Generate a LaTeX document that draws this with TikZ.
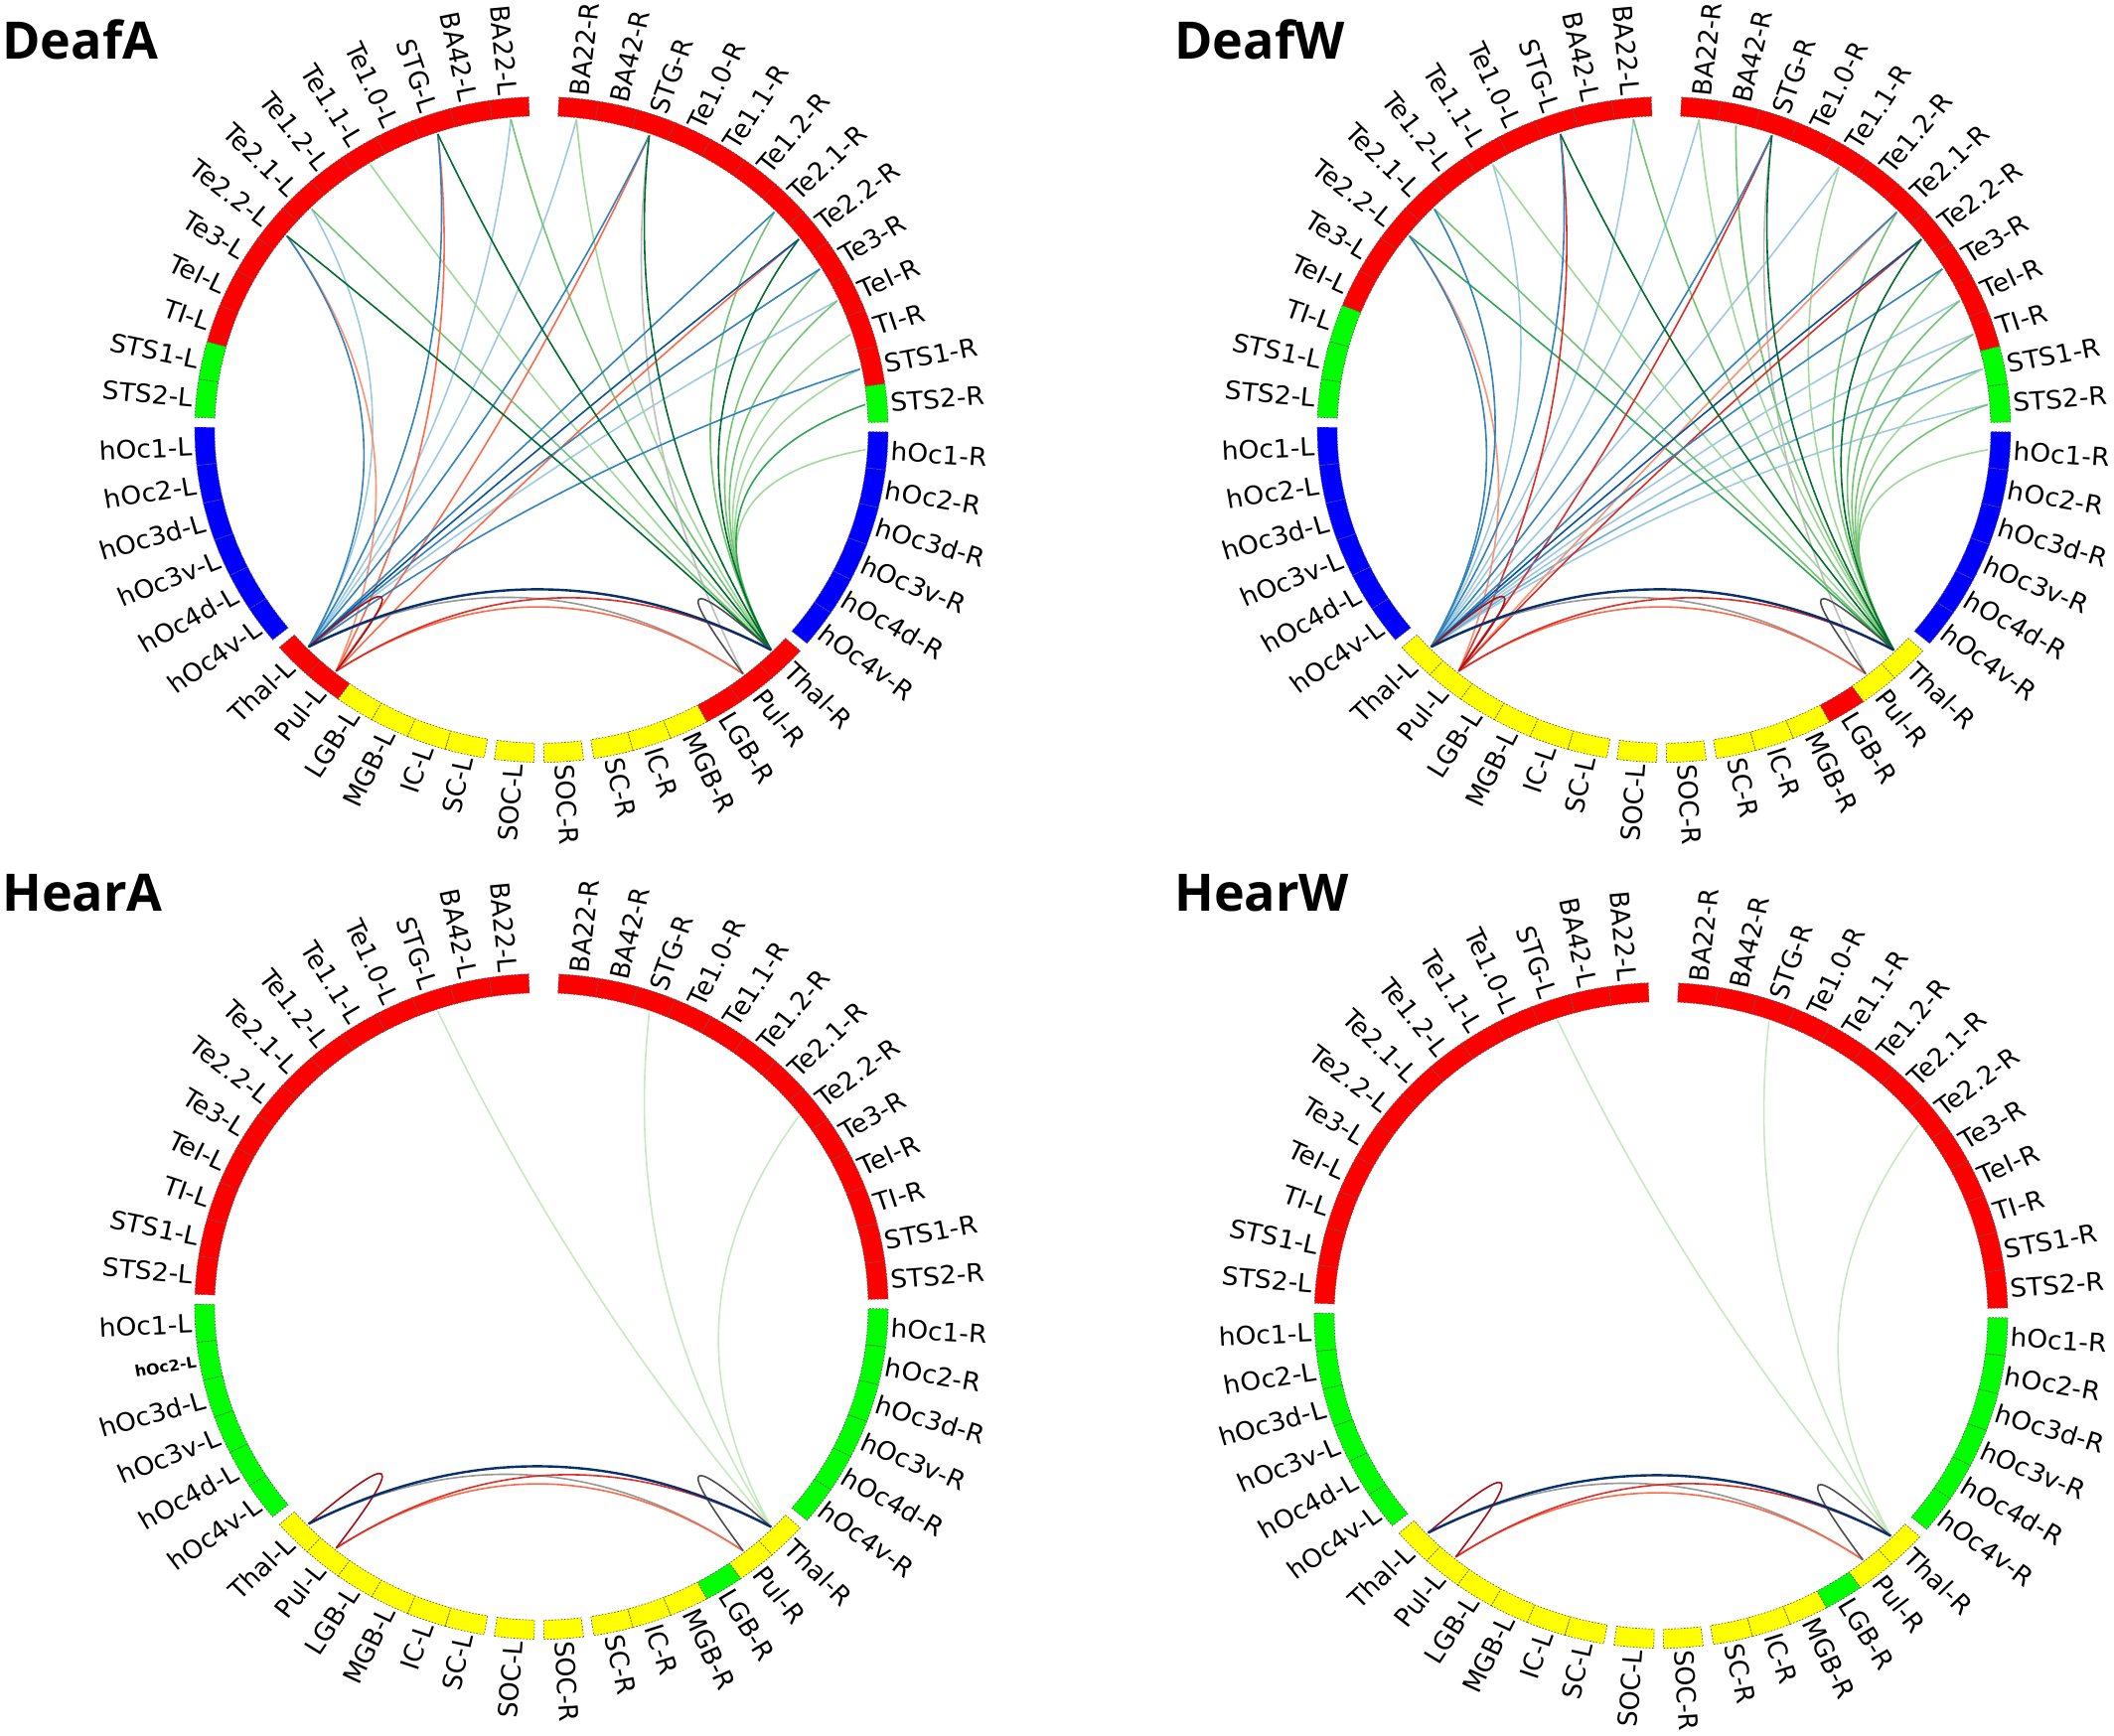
\documentclass[tikz,border=0pt]{standalone}
\usepackage{fontspec}
\setmainfont{DejaVu Sans}
\newfontfamily\titlefont{Open Sans}
\usetikzlibrary{calc}

\definecolor{segR}{RGB}{255,0,0}
\definecolor{segG}{RGB}{0,255,0}
\definecolor{segB}{RGB}{0,0,255}
\definecolor{segY}{RGB}{255,255,0}
\definecolor{cB1}{HTML}{9ECAE1}
\definecolor{cB2}{HTML}{6BAED6}
\definecolor{cB3}{HTML}{3182BD}
\definecolor{cB4}{HTML}{08519C}
\definecolor{cG0}{HTML}{C7E9C0}
\definecolor{cG1}{HTML}{A1D99B}
\definecolor{cG2}{HTML}{74C476}
\definecolor{cG3}{HTML}{31A354}
\definecolor{cG4}{HTML}{006D2C}
\definecolor{cR1}{HTML}{FC9272}
\definecolor{cR2}{HTML}{FB6A4A}
\definecolor{cR3}{HTML}{DE2D26}
\definecolor{cR4}{HTML}{A50F15}
\definecolor{cK1}{HTML}{BDBDBD}
\definecolor{cK2}{HTML}{969696}
\definecolor{cK3}{HTML}{4D4D4D}
\definecolor{cNv}{HTML}{08306B}

\tikzset{
  lbl/.style={inner sep=0pt, transform shape, font=\fontsize{13.25}{15}\selectfont},
  ttl/.style={inner sep=0pt, anchor=base west, font=\titlefont\bfseries\fontsize{26}{30}\selectfont},
  segline/.style={draw=black!65, line width=0.35pt, dash pattern=on 0.8pt off 0.8pt},
  chordbase/.style={line width=0.8pt},
  b1/.style={chordbase, draw=cB1}, b2/.style={chordbase, draw=cB2},
  b3/.style={chordbase, draw=cB3}, b4/.style={chordbase, draw=cB4},
  g0/.style={chordbase, draw=cG0}, g1/.style={chordbase, draw=cG1},
  g2/.style={chordbase, draw=cG2}, g3/.style={chordbase, draw=cG3},
  g4/.style={chordbase, draw=cG4},
  r1/.style={chordbase, draw=cR1}, r2/.style={chordbase, draw=cR2},
  r3/.style={chordbase, draw=cR3}, r4/.style={chordbase, draw=cR4},
  k1/.style={chordbase, draw=cK1}, k2/.style={chordbase, draw=cK2},
  k3/.style={chordbase, draw=cK3},
  nv/.style={line width=1.2pt, draw=cNv}
}

\newcommand\setsegcol[3]{%
  \def\cc{segY}%
  \ifnum#3<13\relax\def\cc{segR}\fi
  \ifnum#3>12\relax\ifnum#3<19\relax\def\cc{segB}\fi\fi
  \ifcase#1\relax
    \ifnum#2=0\relax
      \ifnum#3>10\relax\ifnum#3<13\relax\def\cc{segG}\fi\fi
      \ifnum#3>18\relax\ifnum#3<21\relax\def\cc{segR}\fi\fi
    \else
      \ifnum#3=12\relax\def\cc{segG}\fi
      \ifnum#3>18\relax\ifnum#3<22\relax\def\cc{segR}\fi\fi
    \fi
  \or
    \ifnum#2=0\relax
      \ifnum#3>9\relax\ifnum#3<13\relax\def\cc{segG}\fi\fi
    \else
      \ifnum#3>10\relax\ifnum#3<13\relax\def\cc{segG}\fi\fi
      \ifnum#3=21\relax\def\cc{segR}\fi
    \fi
  \or
    \ifnum#3>12\relax\ifnum#3<19\relax\def\cc{segG}\fi\fi
    \ifnum#2=1\relax\ifnum#3=21\relax\def\cc{segG}\fi\fi
  \fi}

% #1 id, #2 cx, #3 cy, #4 colour scheme, #5 special label flag
\newcommand\drawpanel[5]{%
  \begin{scope}[shift={(#2,#3)}, yscale=0.96]
  \coordinate (#1-c) at (0,0);
  \foreach \k/\nm/\lab in {0/BA22/BA22,1/BA42/BA42,2/STG/STG,3/Te10/Te1.0,4/Te11/Te1.1,5/Te12/Te1.2,6/Te21/Te2.1,7/Te22/Te2.2,8/Te3/Te3,9/TeI/TeI,10/TI/TI,11/STS1/STS1,12/STS2/STS2,13/hOc1/hOc1,14/hOc2/hOc2,15/hOc3d/hOc3d,16/hOc3v/hOc3v,17/hOc4d/hOc4d,18/hOc4v/hOc4v,19/Thal/Thal,20/Pul/Pul,21/LGB/LGB,22/MGB/MGB,23/IC/IC,24/SC/SC,25/SOC/SOC}{%
    \pgfmathsetmacro\ts{2.5+6.6*\k+1.7*((\k>12)+(\k>18)+(\k>24))}%
    \pgfmathsetmacro\as{\ts+0.4}%
    \pgfmathsetmacro\ae{\ts+7.0}%
    \pgfmathsetmacro\bs{-\ts+0.4}%
    \pgfmathsetmacro\be{-\ts-6.2}%
    \pgfmathsetmacro\ar{\ts+3.7}%
    \pgfmathsetmacro\al{-\ts-2.9}%
    \pgfmathsetmacro\rr{90-\ar}%
    \pgfmathsetmacro\rl{-90-\al}%
    \setsegcol{#4}{1}{\k}%
    \path[fill=\cc, segline] plot[domain=\as:\ae, samples=7] ({349*sin(\x)},{-349*cos(\x)})
      -- plot[domain=\ae:\as, samples=7] ({329*sin(\x)},{-329*cos(\x)}) -- cycle;
    \setsegcol{#4}{0}{\k}%
    \path[fill=\cc, segline] plot[domain=\bs:\be, samples=7] ({349*sin(\x)},{-349*cos(\x)})
      -- plot[domain=\be:\bs, samples=7] ({329*sin(\x)},{-329*cos(\x)}) -- cycle;
    \def\lfont{}%
    \ifnum#5=1\relax\ifnum\k=14\relax\def\lfont{\bfseries\fontsize{8}{9}\selectfont}\fi\fi
    \node[lbl, anchor=west, rotate=\rr] (#1-lab-\nm-R) at ({352*sin(\ar)},{-352*cos(\ar)}) {\lab-R};
    \node[lbl, anchor=east, rotate=\rl] (#1-lab-\nm-L) at ({352*sin(\al)},{-352*cos(\al)}) {\lfont\lab-L};
    \coordinate (#1-\nm-R) at ({327*sin(\ar)},{-327*cos(\ar)});
    \coordinate (#1-\nm-L) at ({327*sin(\al)},{-327*cos(\al)});
  }
  \end{scope}}

\newcommand\chord[4]{%
  \coordinate (tm) at ($(#2-#3)!0.5!(#2-#4)$);
  \coordinate (tp) at ($(tm)!0.54!(#2-c)$);
  \draw[#1] (#2-#3) .. controls ($(#2-#3)!0.6667!(tp)$) and ($(#2-#4)!0.6667!(tp)$) .. (#2-#4);}

\newcommand\bottomarcs[1]{%
  \chord{k2}{#1}{Thal-L}{Pul-R}
  \chord{r2}{#1}{Pul-L}{Pul-R}
  \chord{r3}{#1}{Pul-L}{Thal-R}
  \chord{r4}{#1}{Thal-L}{Pul-L}
  \chord{k3}{#1}{Pul-R}{Thal-R}
  \chord{nv}{#1}{Thal-L}{Thal-R}}

\begin{document}
\begin{tikzpicture}[x=0.5pt,y=-0.5pt]
\useasboundingbox (0,0) rectangle (2128,1747);
\fill[white] (0,0) rectangle (2128,1747);

\node[ttl] (tA) at (2,59) {DeafA};
\node[ttl] (tW) at (1182,59) {DeafW};
\node[ttl] (tHA) at (2,917) {HearA};
\node[ttl] (tHW) at (1182,917) {HearW};

\drawpanel{a}{545}{432.5}{0}{0}
\drawpanel{b}{1675}{432.5}{1}{0}
\drawpanel{c}{545}{1315.5}{2}{1}
\drawpanel{d}{1672}{1324.5}{2}{0}

% ---------- DeafA ----------
\chord{b1}{a}{Thal-L}{BA22-L}
\chord{b1}{a}{Thal-L}{Te21-L}
\chord{b1}{a}{Thal-L}{BA22-R}
\chord{b1}{a}{Thal-L}{TeI-R}
\chord{g1}{a}{Thal-R}{Te11-L}
\chord{g1}{a}{Thal-R}{BA22-R}
\chord{g1}{a}{Thal-R}{TI-R}
\chord{g1}{a}{Thal-R}{hOc1-R}
\chord{g1}{a}{Thal-R}{STS1-R}
\chord{k1}{a}{Pul-R}{STG-R}
\chord{g2}{a}{Thal-R}{BA22-L}
\chord{g2}{a}{Thal-R}{Te21-L}
\chord{g2}{a}{Thal-R}{Te21-R}
\chord{g2}{a}{Thal-R}{Te3-R}
\chord{g2}{a}{Thal-R}{TeI-R}
\chord{g3}{a}{Thal-R}{STS2-R}
\chord{r1}{a}{Pul-L}{Te22-L}
\chord{r2}{a}{Pul-L}{STG-L}
\chord{r2}{a}{Pul-L}{STG-R}
\chord{r2}{a}{Pul-L}{Te22-R}
\chord{b3}{a}{Thal-L}{STG-L}
\chord{b3}{a}{Thal-L}{Te22-L}
\chord{b3}{a}{Thal-L}{STG-R}
\chord{b3}{a}{Thal-L}{Te21-R}
\chord{b3}{a}{Thal-L}{Te3-R}
\chord{b3}{a}{Thal-L}{STS1-R}
\chord{b4}{a}{Thal-L}{Te22-R}
\chord{g4}{a}{Thal-R}{STG-L}
\chord{g4}{a}{Thal-R}{Te22-L}
\chord{g4}{a}{Thal-R}{STG-R}
\chord{g4}{a}{Thal-R}{Te22-R}
\bottomarcs{a}

% ---------- DeafW ----------
\chord{b1}{b}{Thal-L}{BA22-L}
\chord{b1}{b}{Thal-L}{Te11-L}
\chord{b1}{b}{Thal-L}{BA22-R}
\chord{b1}{b}{Thal-L}{Te11-R}
\chord{b1}{b}{Thal-L}{TeI-R}
\chord{b1}{b}{Thal-L}{TI-R}
\chord{b1}{b}{Thal-L}{STS2-R}
\chord{b2}{b}{Thal-L}{STS1-R}
\chord{g1}{b}{Thal-R}{Te11-L}
\chord{g1}{b}{Thal-R}{BA22-R}
\chord{g1}{b}{Thal-R}{Te11-R}
\chord{g1}{b}{Thal-R}{STS1-R}
\chord{g1}{b}{Thal-R}{hOc1-R}
\chord{k1}{b}{Pul-R}{STG-R}
\chord{g2}{b}{Thal-R}{BA22-L}
\chord{g2}{b}{Thal-R}{Te21-L}
\chord{g2}{b}{Thal-R}{BA42-R}
\chord{g2}{b}{Thal-R}{Te21-R}
\chord{g2}{b}{Thal-R}{Te3-R}
\chord{g2}{b}{Thal-R}{TeI-R}
\chord{g2}{b}{Thal-R}{TI-R}
\chord{g2}{b}{Thal-R}{STS2-R}
\chord{g3}{b}{Thal-R}{Te22-L}
\chord{r1}{b}{Pul-L}{Te22-L}
\chord{r1}{b}{Pul-L}{Te21-R}
\chord{r3}{b}{Pul-L}{STG-L}
\chord{r3}{b}{Pul-L}{STG-R}
\chord{r3}{b}{Pul-L}{Te22-R}
\chord{b3}{b}{Thal-L}{STG-L}
\chord{b3}{b}{Thal-L}{Te21-L}
\chord{b3}{b}{Thal-L}{Te22-L}
\chord{b3}{b}{Thal-L}{STG-R}
\chord{b3}{b}{Thal-L}{Te21-R}
\chord{b3}{b}{Thal-L}{Te3-R}
\chord{b4}{b}{Thal-L}{Te22-R}
\chord{g4}{b}{Thal-R}{STG-L}
\chord{g4}{b}{Thal-R}{STG-R}
\chord{g4}{b}{Thal-R}{Te22-R}
\bottomarcs{b}

% ---------- HearA ----------
\chord{g0}{c}{Thal-R}{STG-L}
\chord{g0}{c}{Thal-R}{STG-R}
\chord{g0}{c}{Thal-R}{Te22-R}
\bottomarcs{c}

% ---------- HearW ----------
\chord{g0}{d}{Thal-R}{STG-L}
\chord{g0}{d}{Thal-R}{STG-R}
\chord{g0}{d}{Thal-R}{Te22-R}
\bottomarcs{d}
\end{tikzpicture}
\end{document}
